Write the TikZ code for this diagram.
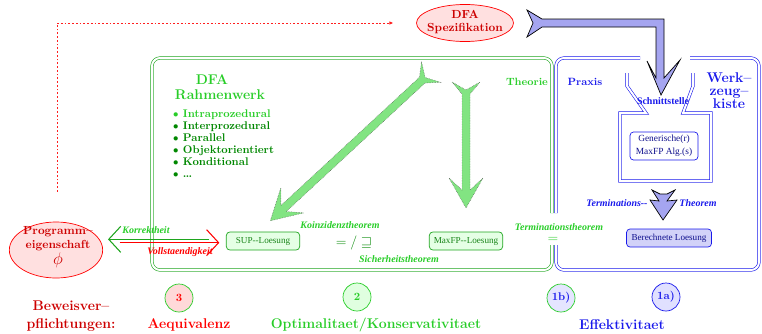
\documentclass[tikz,border=0pt]{standalone}
\usepackage{fontspec}
\newfontfamily\timesf{Liberation Serif}
\usepackage{tikz}
\usetikzlibrary{arrows.meta,positioning,shapes.geometric}
\definecolor{thgreen}{RGB}{40,205,40}
\definecolor{dkgreen}{RGB}{0,135,0}
\definecolor{boxgreen}{RGB}{30,165,30}
\definecolor{pxblue}{RGB}{25,25,235}
\definecolor{lavblue}{RGB}{165,165,240}
\definecolor{arrgreen}{RGB}{130,228,130}
\definecolor{bwred}{RGB}{205,0,0}
\definecolor{dotred}{RGB}{255,30,30}

\begin{document}
\begin{tikzpicture}[
  x=0.03cm, y=-0.03cm,
  every node/.style={inner sep=0pt, align=center},
  head/.style={font=\fontsize{12}{15}\selectfont\bfseries, text=thgreen},
  listitem/.style={font=\fontsize{9.5}{11}\selectfont\bfseries, text=dkgreen, anchor=base west},
  side/.style={font=\fontsize{9}{11}\selectfont\bfseries},
  theo/.style={font=\timesf\bfseries\itshape\fontsize{8.5}{10}\selectfont},
  result/.style={rectangle, rounded corners=3pt, draw=boxgreen, fill=green!10, text=boxgreen!80!black,
    font=\timesf\fontsize{7.8}{9}\selectfont, minimum width=2.2cm, minimum height=0.54cm, line width=0.6pt},
  numcirc/.style={circle, minimum size=0.84cm, line width=0.6pt, font=\fontsize{9.5}{11}\selectfont\bfseries},
  bottom/.style={font=\fontsize{12}{15}\selectfont\bfseries},
  gbox/.style={draw=boxgreen, double, double distance=0.06cm, line width=0.5pt, rounded corners=0.24cm},
  bbox/.style={draw=pxblue, double, double distance=0.06cm, line width=0.5pt, rounded corners=0.24cm},
  specline/.style={draw=dotred, line width=0.7pt, dash pattern=on 1.6pt off 1.6pt, -{Latex[length=3.5pt,width=3pt]}},
  greenfat/.style={draw=black!70, densely dotted, line width=0.4pt, fill=arrgreen},
  bluefat/.style={draw=black, line width=0.6pt, fill=lavblue},
  pics/fatarrow/.style={code={
    \filldraw[greenfat] (0,14) -- (12,4) -- (#1-18,4) -- (#1-30,17) -- (#1,0) -- (#1-30,-17)
      -- (#1-18,-4) -- (12,-4) -- (0,-14) -- (8,0) -- cycle;
  }}
]
\useasboundingbox (0,0) rectangle (762,333);

% Theorie / Praxis frames
\draw[gbox] (552,213) -- (552,58) -- (152,58) -- (152,270) -- (552,270) -- (552,245);
\draw[bbox] (640,58) -- (556,58) -- (556,213);
\draw[bbox] (556,245) -- (556,270) -- (759,270) -- (759,58) -- (690,58);

% DFA Spezifikation
\node[ellipse, draw=red, fill=red!12, line width=0.6pt, minimum width=2.91cm, minimum height=1.11cm] (spec) at (465,23) {};
\node[font=\fontsize{10}{11}\selectfont\bfseries, text=bwred] (spectext) at (465,22) {DFA\\Spezifikation};

% Programmeigenschaft
\node[ellipse, draw=red, fill=red!12, line width=0.6pt, minimum width=2.8cm, minimum height=1.68cm] (prog) at (56,250) {};
\node[font=\fontsize{10}{12}\selectfont\bfseries, text=bwred] (progtext) at (58,247) {Programm--\\eigenschaft\\[1pt]\Large$\phi$};

\draw[specline, shorten <=0.9cm, shorten >=0.68cm] ([xshift=0.03cm]prog.north) |- (spec.west);

% DFA Rahmenwerk
\node[head] (dfa) at (212,80) {DFA};
\node[head] (rahmen) at (220,95) {Rahmenwerk};
\node[listitem, text=thgreen] (item1) at (173,117) {$\bullet$ Intraprozedural};
\foreach \t [count=\k from 2] in {Interprozedural,Parallel,Objektorientiert,Konditional,\ldots}
  \node[listitem] (item\k) at (173,105+12*\k) {$\bullet$ \t};

\node[side, text=thgreen] (theorie) at (527,82) {Theorie};
\node[side, text=pxblue] (praxis) at (585,82) {Praxis};
\node[font=\fontsize{12}{11}\selectfont\bfseries, text=pxblue] (kiste) at (729,91) {Werk--\\zeug--\\kiste};

% green theorem arrows
\pic[rotate=222.8] at (431,72) {fatarrow=219};
\pic[rotate=-90] at (466,82) {fatarrow=126};

% Loesungen
\node[result] (sup) at (263,241) {SUP--Loesung};
\node[result] (maxfp) at (466,241) {MaxFP--Loesung};

\coordinate (progin) at (prog.east |- sup.west);
\draw[boxgreen, line width=0.9pt, -{Straight Barb[length=0.36cm,width=0.78cm]}, shorten >=0.15cm, shorten <=0.5cm]
  ([yshift=0.05cm]sup.west) -- ([yshift=0.05cm]progin);
\draw[red, line width=0.9pt, -{Straight Barb[length=0.36cm,width=0.78cm]}, shorten >=0.2cm, shorten <=0.5cm]
  ([yshift=-0.05cm]progin) -- ([yshift=-0.05cm]sup.west);

\node[theo, text=thgreen] (korrekt) at (146,230) {Korrektheit};
\node[theo, text=red] (vollst) at (180,252) {Vollstaendigkeit};
\node[theo, text=thgreen] (koinz) at (340,225) {Koinzidenztheorem};
\node[font=\fontsize{12.5}{13}\selectfont, text=dkgreen] (koinzsym) at (354,243) {$=/\sqsupseteq$};
\node[theo, text=thgreen] (sicher) at (399,259) {Sicherheitstheorem};
\node[theo, text=thgreen] (termth) at (559,227) {Terminationstheorem};
\node[font=\fontsize{12}{12}\selectfont, text=thgreen] (termsym) at (553,240) {$=$};

% Schnittstelle / Werkzeugkiste
\draw[bbox, rounded corners=0pt] (627,73) -- (627,86) -- (646,113) -- (620,113) -- (620,181)
  -- (711,181) -- (711,113) -- (683,113) -- (693,86) -- (693,73);
\node[font=\timesf\bfseries\fontsize{8.5}{10}\selectfont, text=pxblue] (schnitt) at (663,101) {Schnittstelle};
\node[rectangle, rounded corners=3pt, draw=pxblue, fill=white, line width=0.6pt, text=pxblue!60!black,
  font=\timesf\fontsize{8}{11}\selectfont, minimum width=2.04cm, minimum height=0.84cm] (alg) at (664,146)
  {Generische(r)\\MaxFP Alg.(s)};

% blue arrows
\filldraw[bluefat] (527,10) -- (542,19) -- (664,19) -- (664,78) -- (680,60) -- (661,95) -- (647,61)
  -- (656,78) -- (656,27) -- (542,27) -- (527,37) -- (533,23) -- cycle;
\filldraw[bluefat] (652,190) -- (660,194) -- (667,194) -- (675,190) -- (667,201) -- (677,200)
  -- (663,220) -- (650,200) -- (659,201) -- cycle;

\node[theo, text=pxblue] (termleft) at (617,203) {Terminations--};
\node[theo, text=pxblue] (termright) at (698,203) {Theorem};
\node[rectangle, rounded corners=3pt, draw=pxblue, fill=lavblue!50, line width=0.6pt, text=pxblue!60!black,
  font=\timesf\fontsize{7.8}{9}\selectfont, minimum width=2.55cm, minimum height=0.54cm] (berech) at (669,238)
  {Berechnete Loesung};

% numbers and proof obligations
\node[numcirc, draw=thgreen, fill=red!15, text=red] (n3) at (179,298) {3};
\node[numcirc, draw=thgreen, fill=green!12, text=thgreen] (n2) at (357,297) {2};
\node[numcirc, draw=thgreen, fill=blue!10, text=pxblue] (n1b) at (561,298) {1b)};
\node[numcirc, draw=pxblue, fill=blue!12, text=pxblue] (n1a) at (666,297) {1a)};

\node[bottom, text=bwred] (bew) at (71,316) {Beweisver--\\pflichtungen:};
\node[bottom, text=red] (aequ) at (189,325) {Aequivalenz};
\node[bottom, text=thgreen] (optim) at (376,325) {Optimalitaet/Konservativitaet};
\node[bottom, text=pxblue] (effekt) at (622,325) {Effektivitaet};

\end{tikzpicture}
\end{document}
